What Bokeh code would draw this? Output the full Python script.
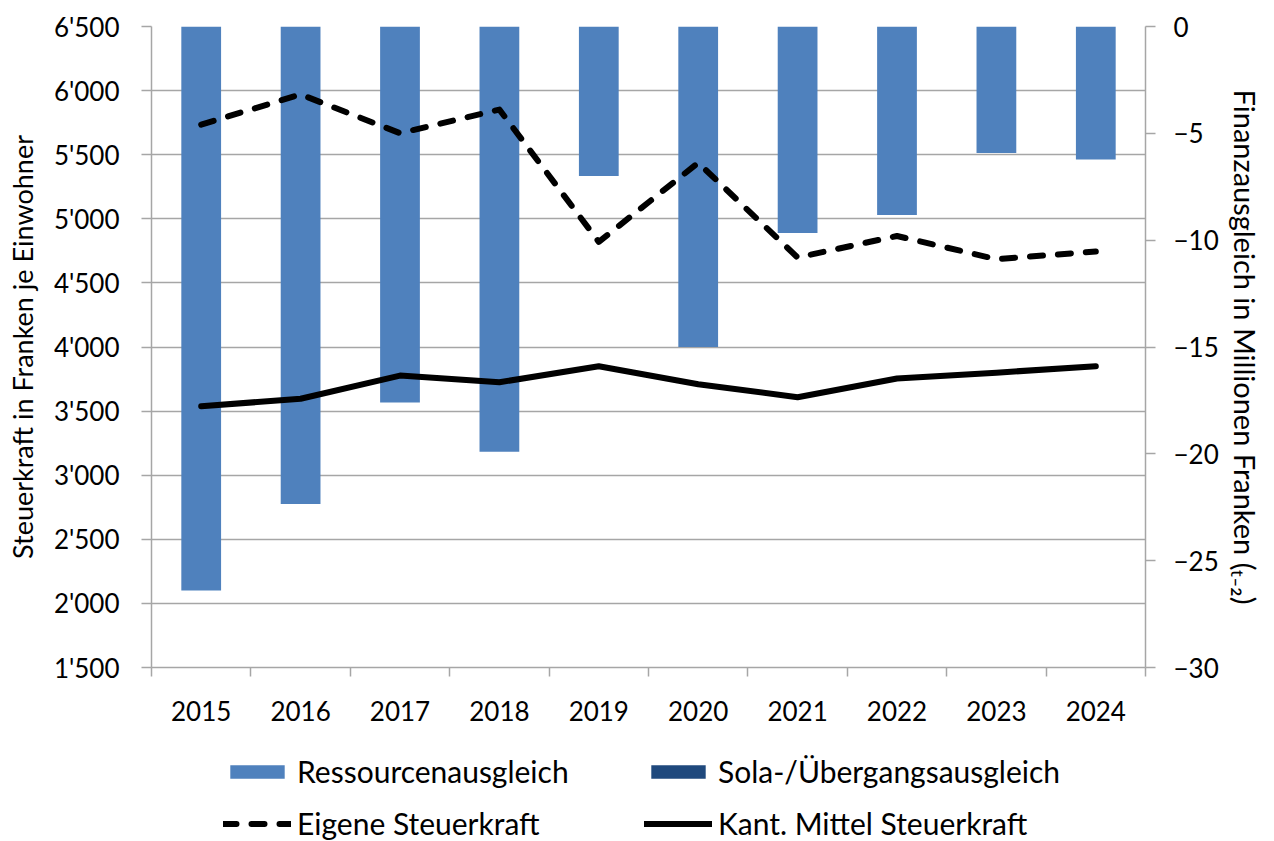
from bokeh.plotting import figure
from bokeh.layouts import column
from bokeh.models import Range1d, LinearAxis, FixedTicker, Legend, LegendItem, ColumnDataSource
from bokeh.embed import file_html
from bokeh.resources import INLINE

years = ["2015", "2016", "2017", "2018", "2019", "2020", "2021", "2022", "2023", "2024"]
ressourcen = [-26.4, -22.35, -17.6, -19.9, -7.0, -15.0, -9.67, -8.82, -5.92, -6.22]
sola = [0, 0, 0, 0, 0, 0, 0, 0, 0, 0]
eigene = [5735, 5970, 5668, 5852, 4820, 5437, 4698, 4866, 4685, 4745]
kant = [3538, 3596, 3777, 3725, 3850, 3710, 3608, 3754, 3800, 3850]
left_ticks = [1500, 2000, 2500, 3000, 3500, 4000, 4500, 5000, 5500, 6000, 6500]
left_labels = ["1'500", "2'000", "2'500", "3'000", "3'500", "4'000", "4'500", "5'000", "5'500", "6'000", "6'500"]
right_ticks = [-30, -25, -20, -15, -10, -5, 0]

FONT = "Lato"
GRID = "#a6a6a6"
BLUE = "#4f81bd"
DARK = "#1f497d"

xs = [i + 0.5 for i in range(len(years))]
sola_bottom = [r + s for r, s in zip(ressourcen, sola)]
src = ColumnDataSource(dict(x=xs, res=ressourcen, zero=[0] * len(xs), sb=sola_bottom,
                            eig=eigene, kant=kant))

p = figure(frame_width=994, frame_height=641, x_range=Range1d(0, len(years)), y_range=Range1d(1500, 6500),
           output_backend="svg", toolbar_location=None,
           min_border_left=151, min_border_right=121, min_border_top=26, min_border_bottom=75)
p.extra_y_ranges = {"fa": Range1d(-30, 0)}
p.outline_line_color = None
p.background_fill_color = "white"
p.xgrid.visible = False
p.ygrid.ticker = FixedTicker(ticks=left_ticks)
p.ygrid.grid_line_color = GRID
p.ygrid.grid_line_width = 1.5

p.vbar(x="x", top="zero", bottom="res", width=0.4, source=src, y_range_name="fa",
       fill_color=BLUE, line_color=None)
p.vbar(x="x", top="res", bottom="sb", width=0.4, source=src, y_range_name="fa",
       fill_color=DARK, line_color=None)
p.line(x="x", y="eig", source=src, line_color="black", line_width=6,
       line_dash="13 15", line_cap="round", line_join="round")
p.line(x="x", y="kant", source=src, line_color="black", line_width=6,
       line_cap="round", line_join="round")

# x axis
xa = p.xaxis[0]
xa.ticker = FixedTicker(ticks=xs, minor_ticks=list(range(len(years) + 1)))
xa.major_label_overrides = {x: y for x, y in zip(xs, years)}
xa.major_tick_line_color = None
xa.major_tick_out = 0
xa.major_tick_in = 0
xa.minor_tick_line_color = GRID
xa.minor_tick_line_width = 1.5
xa.minor_tick_out = 9
xa.minor_tick_in = 0
xa.axis_line_color = GRID
xa.axis_line_width = 1.5
xa.major_label_standoff = 24
xa.major_label_text_font = FONT
xa.major_label_text_font_size = "26px"
xa.major_label_text_color = "black"

# left axis
ya = p.yaxis[0]
ya.ticker = FixedTicker(ticks=left_ticks)
ya.major_label_overrides = {t: l for t, l in zip(left_ticks, left_labels)}
ya.minor_tick_line_color = None
ya.major_tick_line_color = GRID
ya.major_tick_line_width = 1.5
ya.major_tick_out = 10
ya.major_tick_in = 0
ya.axis_line_color = GRID
ya.axis_line_width = 1.5
ya.major_label_standoff = 22
ya.major_label_text_font = FONT
ya.major_label_text_font_size = "26px"
ya.major_label_text_color = "black"
ya.axis_label = "Steuerkraft in Franken je Einwohner"
ya.axis_label_text_font = FONT
ya.axis_label_text_font_size = "27px"
ya.axis_label_text_font_style = "normal"
ya.axis_label_text_color = "black"
ya.axis_label_standoff = 12

# right axis
ra = LinearAxis(y_range_name="fa", ticker=FixedTicker(ticks=right_ticks))
ra.minor_tick_line_color = None
ra.major_tick_line_color = GRID
ra.major_tick_line_width = 1.5
ra.major_tick_out = 10
ra.major_tick_in = 0
ra.axis_line_color = GRID
ra.axis_line_width = 1.5
ra.major_label_standoff = 18
ra.major_label_text_font = FONT
ra.major_label_text_font_size = "26px"
ra.major_label_text_color = "black"
ra.axis_label = "Finanzausgleich in Millionen Franken (ₜ₋₂)"
ra.axis_label_orientation = "vertical"
ra.axis_label_text_font = FONT
ra.axis_label_text_font_size = "29px"
ra.axis_label_text_font_style = "normal"
ra.axis_label_text_color = "black"
ra.axis_label_standoff = 6
p.add_layout(ra, "right")

# legend strip below the chart (same series, drawn outside its visible range)
lp = figure(width=1266, height=99, x_range=Range1d(0, len(years)), y_range=Range1d(0, 1),
            output_backend="svg", toolbar_location=None, min_border=0)
lp.axis.visible = False
lp.grid.visible = False
lp.outline_line_color = None
l_res = lp.vbar(x="x", top="res", bottom="sb", width=0.4, source=src, fill_color=BLUE, line_color=None)
l_sola = lp.vbar(x="x", top="res", bottom="sb", width=0.4, source=src, fill_color=DARK, line_color=None)
l_eig = lp.line(x="x", y="eig", source=src, line_color="black", line_width=6, line_dash="13 15", line_cap="round")
l_kant = lp.line(x="x", y="kant", source=src, line_color="black", line_width=6, line_cap="round")


def make_legend(items, loc):
    lg = Legend(items=items, orientation="horizontal", location=loc)
    lg.glyph_width = 68
    lg.glyph_height = 17
    lg.label_text_font = FONT
    lg.label_text_font_size = "30px"
    lg.label_text_color = "black"
    lg.label_standoff = 6
    lg.label_width = 327
    lg.spacing = 20
    lg.padding = 0
    lg.margin = 0
    lg.border_line_color = None
    lg.background_fill_alpha = 0
    return lg


lp.add_layout(make_legend([LegendItem(label="Ressourcenausgleich", renderers=[l_res]),
                           LegendItem(label="Sola-/Übergangsausgleich", renderers=[l_sola])], (72, 52)))
lp.add_layout(make_legend([LegendItem(label="Eigene Steuerkraft", renderers=[l_eig]),
                           LegendItem(label="Kant. Mittel Steuerkraft", renderers=[l_kant])], (72, 0)))

open("out.html", "w").write(file_html(column(p, lp, spacing=0), INLINE))
